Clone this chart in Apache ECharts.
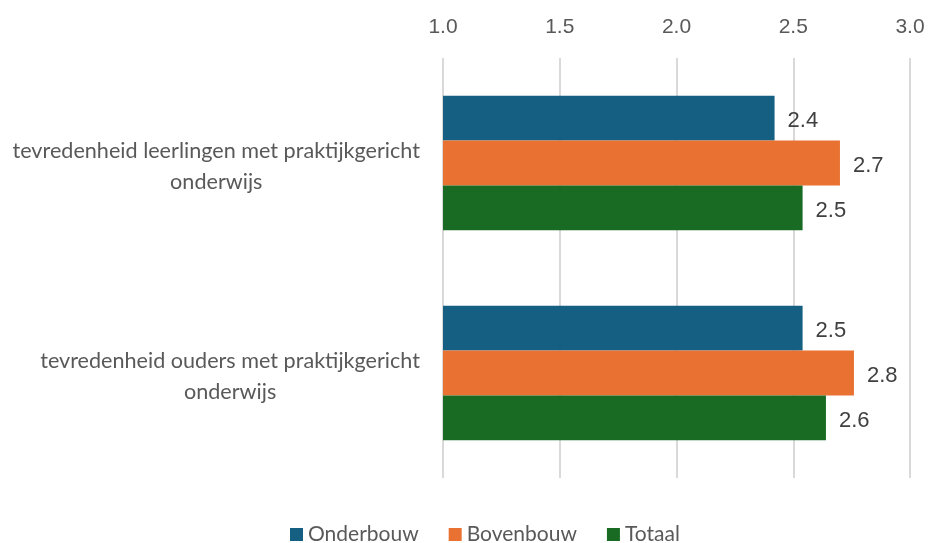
<!DOCTYPE html>
<html><head><meta charset="utf-8">
<script src="https://cdn.jsdelivr.net/npm/echarts@6/dist/echarts.min.js"></script>
<style>html,body{margin:0;padding:0;background:#fff}#c{width:928px;height:543px}</style>
</head><body><div id="c"></div>
<script>
const categories = [
  ["tevredenheid leerlingen met praktijkgericht", "onderwijs"],
  ["tevredenheid ouders met praktijkgericht", "onderwijs"]
];
const seriesNames = ["Onderbouw", "Bovenbouw", "Totaal"];
const onderbouw = [2.42, 2.54];
const bovenbouw = [2.70, 2.76];
const totaal = [2.54, 2.64];
const colors = ["#156082", "#E97132", "#196B24"];
const xTicks = [1.0, 1.5, 2.0, 2.5, 3.0];

const chart = echarts.init(document.getElementById('c'));
const values = [onderbouw, bovenbouw, totaal];
chart.setOption({
  animation: false,
  grid: { left: 443, right: 18, top: 58, bottom: 65, containLabel: false },
  legend: {
    bottom: -7, left: 285, itemWidth: 13, itemHeight: 13, itemGap: 30, itemTextGap: 3,
    icon: 'rect',
    textStyle: { color: '#595959', fontSize: 21, fontFamily: 'Lato' },
    data: seriesNames
  },
  xAxis: {
    type: 'value', position: 'top', min: xTicks[0], max: xTicks[xTicks.length-1], interval: 0.5,
    axisLine: { show: false }, axisTick: { show: false },
    splitLine: { lineStyle: { color: '#d9d9d9', width: 2 } },
    axisLabel: { color: '#595959', fontSize: 21, fontFamily: 'Liberation Sans', margin: 20,
      formatter: v => v.toFixed(1) }
  },
  yAxis: {
    type: 'category', inverse: true,
    data: categories.map(c => c.join('\n')),
    axisLine: { show: false }, axisTick: { show: false },
    axisLabel: {
      margin: 23, color: '#595959', fontSize: 21.6, fontFamily: 'Lato', align: 'right',
      padding: [7, 0, 0, 0],
      formatter: v => v.split('\n').map(s => '{c|' + s + '}').join('\n'),
      rich: { c: { align: 'center', fontSize: 21.6, fontFamily: 'Lato', color: '#595959', lineHeight: 31 } }
    }
  },
  series: seriesNames.map((n, i) => ({
    name: n, type: 'bar', data: values[i], barGap: '0%', barCategoryGap: '36%',
    itemStyle: { color: colors[i] },
    label: { show: true, position: 'right', distance: 13, color: '#404040', fontSize: 22,
      fontFamily: 'Liberation Sans', offset: [0, 3], formatter: p => p.value.toFixed(1) }
  }))
});
</script></body></html>
